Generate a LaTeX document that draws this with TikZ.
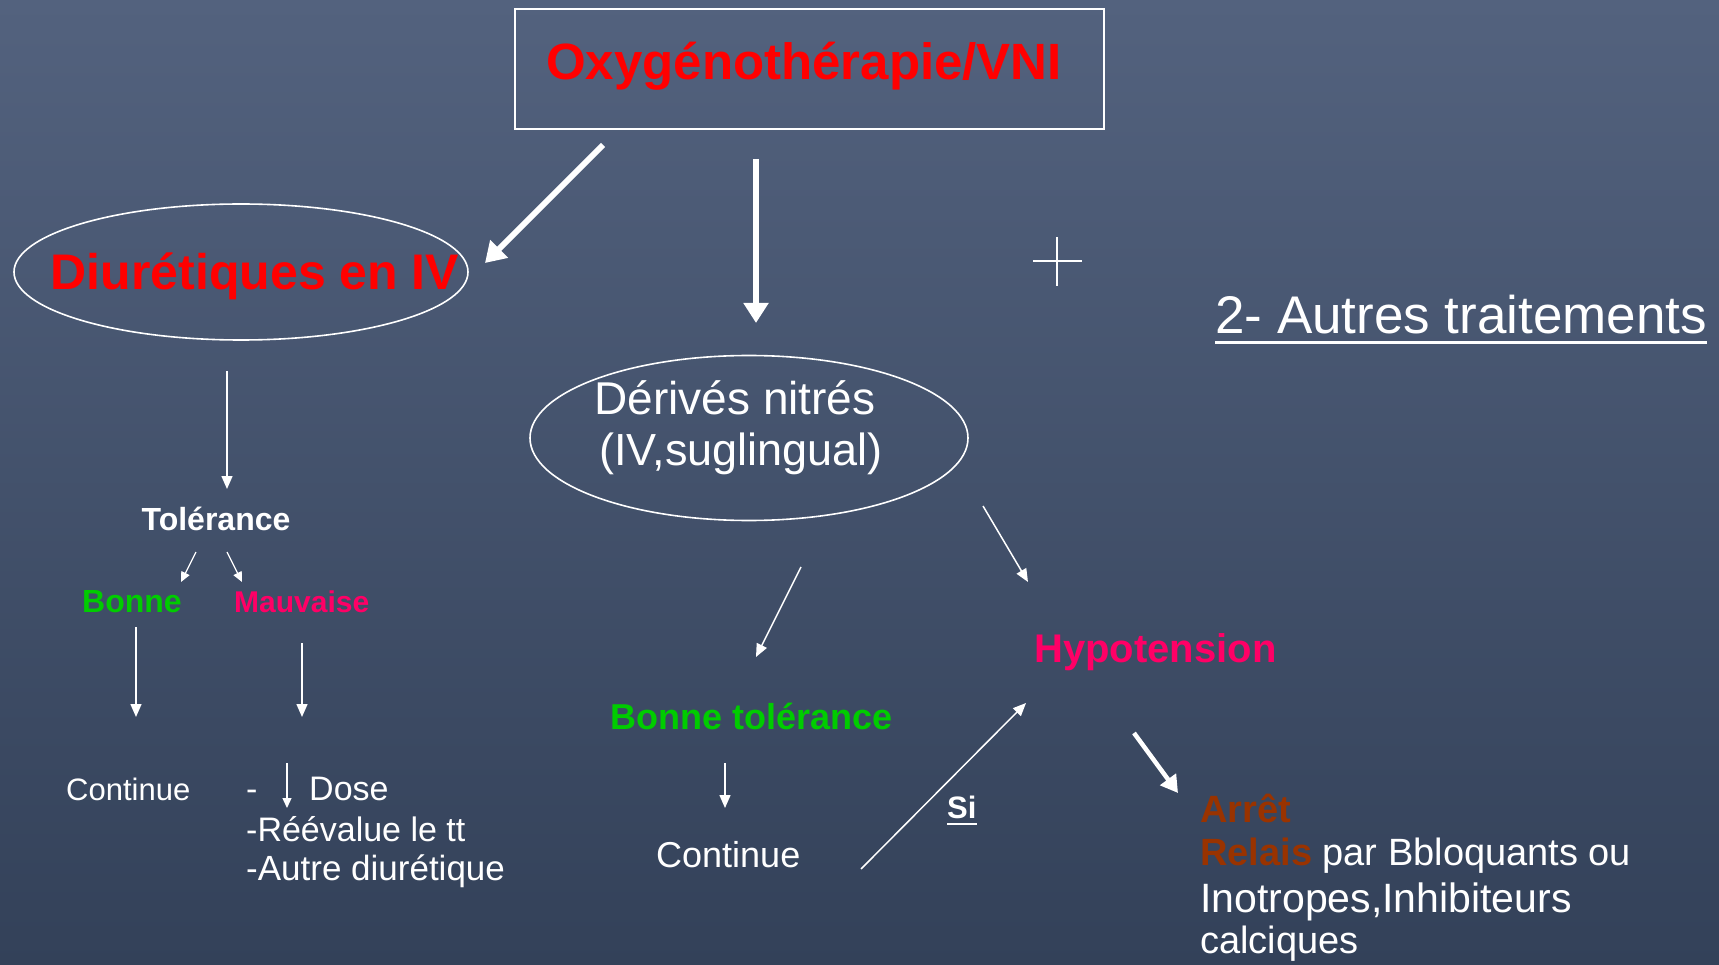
\documentclass[tikz,border=0pt]{standalone}
\usepackage{fontspec}
\setmainfont{Liberation Sans}
\usetikzlibrary{arrows.meta,shapes.geometric}
\definecolor{bgtop}{RGB}{83,98,126}
\definecolor{bgbot}{RGB}{51,65,89}
\definecolor{tred}{RGB}{255,0,0}
\definecolor{tgreen}{RGB}{0,204,0}
\definecolor{tpink}{RGB}{255,0,102}
\definecolor{tbrown}{RGB}{153,51,0}
\newcommand{\fsz}[1]{\fontsize{#1}{#1}\selectfont}
\begin{document}
\begin{tikzpicture}[x=1pt,y=-1pt,
  txt/.style={inner sep=0pt, text=white, anchor=base west},
  ctxt/.style={inner sep=0pt, text=white, anchor=base},
  thinarr/.style={draw=white, line width=1.5pt, -{Triangle[length=13pt,width=11pt]}},
  smallarr/.style={draw=white, line width=1.3pt, -{Triangle[length=10pt,width=9pt]}},
  thickarr/.style={draw=white, line width=6pt, -{Triangle[length=20pt,width=24pt]}},
  midarr/.style={draw=white, line width=4.5pt, -{Triangle[length=17pt,width=19pt]}},
  outline/.style={draw=white, line width=1.6pt, inner sep=0pt}]
\useasboundingbox (0,0) rectangle (1719,965);
\shade[top color=bgtop, bottom color=bgbot] (0,0) rectangle (1719,965);

% top box
\node[outline, rectangle, minimum width=589pt, minimum height=120pt, anchor=north west] (box) at (514,8) {};
\node[ctxt, text=tred, font=\fsz{51}\bfseries] (oxy) at (804,80) {Oxygénothérapie/VNI};

% ellipses
\node[outline, ellipse, minimum width=454pt, minimum height=136pt] (ell1) at (241,272) {};
\node[ctxt, text=tred, font=\fsz{50}\bfseries] (diur) at (255,290) {Diurétiques en IV};
\node[outline, ellipse, minimum width=438pt, minimum height=165pt] (ell2) at (749,438) {};
\node[ctxt, font=\fsz{46}] (der1) at (735,414) {Dérivés nitrés};
\node[ctxt, font=\fsz{45}] (der2) at (741,465) {(IV,suglingual)};

% plus sign
\draw[white, line width=2pt] (1033,261) -- (1082,261) (1057,237) -- (1057,286);

% title right
\node[txt, font=\fsz{53}] (autres) at (1215,334) {2- Autres traitements};
\draw[white, line width=3pt] ([yshift=-9pt]autres.base west) -- ([yshift=-9pt]autres.base east);

% left branch
\node[ctxt, font=\fsz{32}\bfseries] (tol) at (216,530) {Tolérance};
\node[txt, text=tgreen, font=\fsz{32}\bfseries] (bonne) at (82,612) {Bonne};
\node[txt, text=tpink, font=\fsz{30}\bfseries] (mauv) at (234,612) {Mauvaise};
\node[txt, font=\fsz{31}] (cont1) at (66,800) {Continue};
\node[txt, font=\fsz{34}] (dash) at (246,800) {-};
\node[txt, font=\fsz{34}] (dose) at (309,800) {Dose};
\node[txt, font=\fsz{34}] (reev) at (246,841) {-Réévalue le tt};
\node[txt, font=\fsz{35}] (autre) at (246,880) {-Autre diurétique};

% middle branch
\node[txt, text=tgreen, font=\fsz{36}\bfseries] (btol) at (610,729) {Bonne tolérance};
\node[txt, font=\fsz{36}] (cont2) at (656,867) {Continue};
\node[txt, text=tpink, font=\fsz{40}\bfseries] (hypo) at (1034,662) {Hypotension};
\node[txt, font=\fsz{31}\bfseries] (si) at (947,818) {Si};
\draw[white, line width=2pt] ([yshift=-6pt]si.base west) -- ([yshift=-6pt]si.base east);

% right block
\node[txt, text=tbrown, font=\fsz{38}\bfseries] (arret) at (1200,822) {Arrêt};
\node[txt, font=\fsz{38}] (relais) at (1200,865) {\textcolor{tbrown}{\bfseries Relais} par Bbloquants ou};
\node[txt, font=\fsz{41}] (inot) at (1200,912) {Inotropes,Inhibiteurs};
\node[txt, font=\fsz{38}] (calc) at (1200,953) {calciques};

% arrow end points
\coordinate (b1s) at (603,145);  \coordinate (b1e) at (485,263);
\coordinate (b2s) at (756,159);  \coordinate (b2e) at (756,323);
\coordinate (d1s) at (227,371);  \coordinate (d1e) at (227,489);
\coordinate (t1s) at (196,552);  \coordinate (t1e) at (181,582);
\coordinate (t2s) at (227,552);  \coordinate (t2e) at (242,582);
\coordinate (g1s) at (136,627);  \coordinate (g1e) at (136,717);
\coordinate (m1s) at (302,643);  \coordinate (m1e) at (302,717);
\coordinate (dzs) at (287,763);  \coordinate (dze) at (287,808);
\coordinate (n1s) at (801,567);  \coordinate (n1e) at (756,657);
\coordinate (n2s) at (983,506);  \coordinate (n2e) at (1028,582);
\coordinate (c2s) at (725,763);  \coordinate (c2e) at (725,808);
\coordinate (sis) at (861,869);  \coordinate (sie) at (1026,703);
\coordinate (h1s) at (1134,733); \coordinate (h1e) at (1178,793);

\draw[thickarr] (b1s) -- (b1e);
\draw[thickarr] (b2s) -- (b2e);
\draw[thinarr] (d1s) -- (d1e);
\draw[smallarr] (t1s) -- (t1e);
\draw[smallarr] (t2s) -- (t2e);
\draw[thinarr] (g1s) -- (g1e);
\draw[thinarr] (m1s) -- (m1e);
\draw[smallarr] (dzs) -- (dze);
\draw[thinarr] (n1s) -- (n1e);
\draw[thinarr] (n2s) -- (n2e);
\draw[thinarr] (c2s) -- (c2e);
\draw[thinarr] (sis) -- (sie);
\draw[midarr] (h1s) -- (h1e);
\end{tikzpicture}
\end{document}
